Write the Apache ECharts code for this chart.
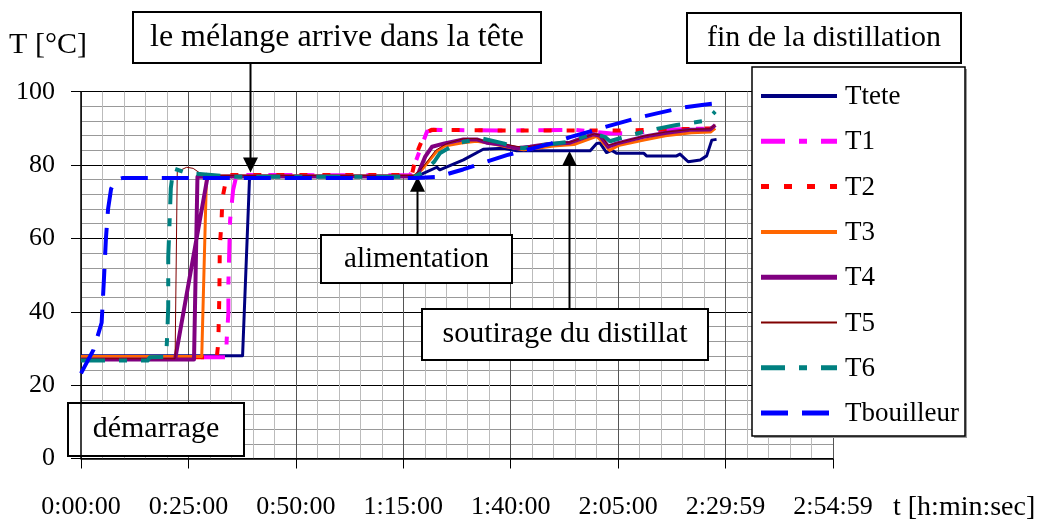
<!DOCTYPE html>
<html>
<head>
<meta charset="utf-8">
<script src="https://cdn.jsdelivr.net/npm/echarts@6/dist/echarts.min.js"></script>
<style>
  html, body { margin: 0; padding: 0; background: #fff; }
  #chart { width: 1053px; height: 521px; }
</style>
</head>
<body>
<div id="chart"></div>
<script>
// Temperatures de colonne pendant la distillation (temps en minutes, T en °C)
const xTickLabels = ['0:00:00', '0:25:00', '0:50:00', '1:15:00', '1:40:00', '2:05:00', '2:29:59', '2:54:59'];

const Ttete = [[0,28.0],[37.6,28.0],[39.2,76.0],[40,76.9],[78,76.9],[78.9,77.3],[82.8,79.4],[83.5,78.7],[89.0,81.4],[93.6,84.3],[98.3,84.6],[101.4,83.9],[118.5,83.9],[120.0,85.9],[120.8,86.0],[122.3,83.4],[123.5,84.0],[124.7,83.2],[131.0,83.2],[131.6,82.5],[138.6,82.5],[139.4,83.0],[141.3,80.9],[144.1,81.4],[145.6,82.5],[146.8,86.8],[147.9,87.0]];

const T1 = [[0,27.6],[33.8,27.6],[33.9,32.3],[34.3,39.7],[34.3,47.8],[34.7,65.0],[35.4,73.2],[36.2,77.3],[76.5,77.2],[77.0,78.2],[78.9,84.1],[80.5,89.1],[82.0,89.6],[97,89.4],[115,89.6],[123.5,88.6],[129,88.7],[134.7,89.6],[147.2,90.0]];

const T2 = [[0,27.6],[31.6,27.6],[31.95,31.5],[32.2,44.6],[32.3,57.7],[32.7,64.6],[32.9,70.9],[34.0,77.3],[77.0,77.3],[78.1,83.2],[80.1,88.8],[81.6,89.6],[100,89.4],[115,89.4],[125,89.4],[140,89.8],[147,90.0],[147.3,88.5]];

const T3 = [[0,27.8],[28.1,27.8],[29.2,77.0],[77.5,77.0],[79.2,78.6],[82.7,83.6],[84.6,85.2],[88.5,86.0],[92,86.5],[95,86.0],[99,85.0],[103,84.2],[106,84.6],[110,85.2],[114.7,85.6],[120,87.8],[121.2,86.5],[123,84.0],[125,85.3],[131,86.8],[136,88.0],[142,88.8],[146.5,89.0],[147.6,90.0]];

// T4 : relevé principal puis un segment isolé (point enregistré hors séquence)
const T4 = [[0,27.0],[26.3,27.0],[27.1,76.8],[35,76.9],[78.2,76.9],[80.1,82.3],[81.7,85.0],[84.6,85.9],[89,87.0],[92.1,87.0],[94.4,86.1],[98.3,85.5],[101.4,84.6],[104.5,85.0],[108.4,85.7],[113.8,86.1],[119.2,88.4],[120.8,88.0],[122.7,85.0],[124.7,85.9],[130.9,87.7],[136.3,88.8],[141.7,89.6],[146.4,89.7],[147.6,90.9],
            ['-','-'],[21.9,27.0],[29.6,77.8]];

const T5 = [[0,27.2],[21.9,27.2],[22.4,78.2],[24.6,79.4],[26.1,79.1],[27.7,77.8],[30,77.2],[77.5,77.2],[79.6,79.5],[82.5,84.0],[85,85.8],[89,87.2],[92,87.2],[95,86.3],[99,85.6],[103,84.8],[108,85.8],[114,86.3],[119.5,88.5],[121,88.1],[122.7,85.4],[125,86.1],[131,87.9],[136,89.0],[142,89.7],[146.5,89.9],[147.6,91.0]];

const T6 = [[0,26.7],[15.5,26.7],[16.0,27.6],[19.9,27.7],[19.9,29.6],[20.1,34.6],[20.3,41.4],[20.3,46.4],[20.3,55.0],[20.5,60.9],[20.7,67.3],[20.9,73.7],[21.5,79.1],[24.6,77.8],[26.9,77.6],[35,76.8],[77.5,76.8],[79.5,78.0],[82.2,80.9],[83.5,83.2],[87.4,85.9],[93.1,87.3],[98.3,85.9],[100.6,85.0],[103,84.6],[104.5,85.0],[113.8,86.4],[119.2,88.6],[121.9,87.7],[123.1,86.5],[128,88.2],[133.2,89.7],[138.6,90.9],[143.7,91.8],[145.5,92.1],[147.6,94.6]];

const Tbouilleur = [[0,23.2],[2.9,29.6],[4.8,37.0],[5.3,48.0],[5.8,60.0],[6.3,68.0],[7.0,73.5],[8.0,76.0],[9.8,76.5],[78,76.5],[83.1,76.8],[88.9,78.8],[93.3,80.5],[99.1,82.7],[103.7,84.1],[109.5,85.9],[113.8,87.6],[120.0,89.7],[123.5,90.9],[129.7,92.9],[134.0,94.1],[140.2,95.7],[144.5,96.4],[147.5,96.8]];

// Flèches d'annotation : [temps (min), température pointée (°C)]
const arrowMelange = [39.3, 78.0];
const arrowAlimentation = [78.1, 76.8];
const arrowSoutirage = [113.6, 83.8];

const SERIF = '"Liberation Serif", "Times New Roman", serif';

// Style de chaque courbe : nom, données, couleur, épaisseur, tirets
const curves = [
  { name: 'Ttete',      data: Ttete,      color: '#000080', width: 3, dash: 'solid' },
  { name: 'T1',         data: T1,         color: '#ff00ff', width: 4, dash: [24, 14, 8, 14] },
  { name: 'T2',         data: T2,         color: '#ff0000', width: 4, dash: [8, 15] },
  { name: 'T3',         data: T3,         color: '#ff6600', width: 3, dash: 'solid' },
  { name: 'T4',         data: T4,         color: '#800080', width: 4, dash: 'solid' },
  { name: 'T5',         data: T5,         color: '#800000', width: 1, dash: 'solid' },
  { name: 'T6',         data: T6,         color: '#008080', width: 4, dash: [24, 14, 8, 14] },
  { name: 'Tbouilleur', data: Tbouilleur, color: '#0000ff', width: 4, dash: [27, 14] }
];

const chart = echarts.init(document.getElementById('chart'), null, { renderer: 'canvas' });

chart.setOption({
  animation: false,
  backgroundColor: '#fff',
  grid: { left: 81, right: 220, top: 91.7, bottom: 62.5, containLabel: false },
  xAxis: {
    type: 'value', min: 0, max: 175, interval: 25,
    axisLine: { show: true, onZero: false, lineStyle: { color: '#000', width: 1.5 } },
    axisTick: { show: true, length: 10, lineStyle: { color: '#000', width: 1 } },
    axisLabel: {
      margin: 36, color: '#000', fontFamily: SERIF, fontSize: 26,
      showMinLabel: true, showMaxLabel: true,
      formatter: v => xTickLabels[Math.round(v / 25)]
    },
    splitLine: { show: true, lineStyle: { color: '#555', width: 1 } },
    minorTick: { show: false, splitNumber: 5 },
    minorSplitLine: { show: true, lineStyle: { color: '#bbb', width: 1 } }
  },
  yAxis: {
    type: 'value', min: 0, max: 100, interval: 20,
    axisLine: { show: true, lineStyle: { color: '#000', width: 1.5 } },
    axisTick: { show: true, length: 10, lineStyle: { color: '#000', width: 1 } },
    axisLabel: { margin: 26, color: '#000', fontFamily: SERIF, fontSize: 26 },
    splitLine: { show: true, lineStyle: { color: '#000', width: 1 } },
    minorTick: { show: false, splitNumber: 5 },
    minorSplitLine: { show: true, lineStyle: { color: '#999', width: 1 } }
  },
  legend: { show: false },
  series: curves.map(c => ({
    name: c.name, type: 'line', data: c.data,
    symbol: 'none', showSymbol: false, animation: false, connectNulls: false,
    lineStyle: { color: c.color, width: c.width, type: c.dash, cap: 'butt', join: 'round' },
    itemStyle: { color: c.color }
  }))
});

// Boîtes de texte et flèches d'annotation
function box(x, y, w, h, text, size) {
  return {
    type: 'group', z: 100,
    children: [
      { type: 'rect', shape: { x, y, width: w, height: h },
        style: { fill: '#fff', stroke: '#000', lineWidth: 2 } },
      { type: 'text', style: { x: x + w / 2, y: y + h / 2, text, font: size + 'px ' + SERIF,
        fill: '#000', textAlign: 'center', textVerticalAlign: 'middle' } }
    ]
  };
}

function arrow(tip, fromY, up) {
  const p = chart.convertToPixel({ gridIndex: 0 }, tip);
  const x = Math.round(p[0]) + 0.5, y = p[1];
  const s = up ? 1 : -1;
  return {
    type: 'group', z: 99,
    children: [
      { type: 'line', shape: { x1: x, y1: fromY, x2: x, y2: y + s * 14 }, style: { stroke: '#000', lineWidth: 2 } },
      { type: 'polygon', shape: { points: [[x, y], [x - 7.5, y + s * 15], [x + 7.5, y + s * 15]] }, style: { fill: '#000' } }
    ]
  };
}

// Légende dessinée à la main : trait de 76 px puis nom de la courbe
function legendBlock(left, top, width, height, first, step) {
  const children = [
    { type: 'rect', shape: { x: left + 2, y: top + 2, width, height }, style: { fill: '#9a9a9a' } },
    { type: 'rect', shape: { x: left, y: top, width, height }, style: { fill: '#fff', stroke: '#000', lineWidth: 1.5 } }
  ];
  curves.forEach((c, i) => {
    const y = top + first + i * step;
    children.push({
      type: 'line', shape: { x1: left + 9, y1: y, x2: left + 85, y2: y },
      style: { stroke: c.color, lineWidth: c.width + 1, lineDash: c.dash === 'solid' ? null : c.dash, lineCap: 'butt' }
    });
    children.push({
      type: 'text', style: { x: left + 93, y: y + 1, text: c.name, font: '27px ' + SERIF,
        fill: '#000', textAlign: 'left', textVerticalAlign: 'middle' }
    });
  });
  return { type: 'group', z: 100, children };
}

chart.setOption({
  graphic: [
    { type: 'text', z: 100, style: { x: 48, y: 45, text: 'T [°C]', font: '30px ' + SERIF, fill: '#000', textAlign: 'center', textVerticalAlign: 'middle' } },
    { type: 'text', z: 100, style: { x: 893, y: 508, text: 't [h:min:sec]', font: '28px ' + SERIF, fill: '#000', textAlign: 'left', textVerticalAlign: 'middle' } },
    arrow(arrowMelange, 63, false),
    arrow(arrowAlimentation, 235, true),
    arrow(arrowSoutirage, 309, true),
    box(133, 12, 408, 51, 'le mélange arrive dans la tête', 32),
    box(687, 13, 274, 50, 'fin de la distillation', 30),
    box(321, 235, 191, 48, 'alimentation', 29),
    box(422, 309, 286, 51, 'soutirage du distillat', 30),
    box(68, 403, 176, 53, 'démarrage', 30),
    legendBlock(752, 67, 213, 369, 29, 45.3)
  ]
});
</script>
</body>
</html>
